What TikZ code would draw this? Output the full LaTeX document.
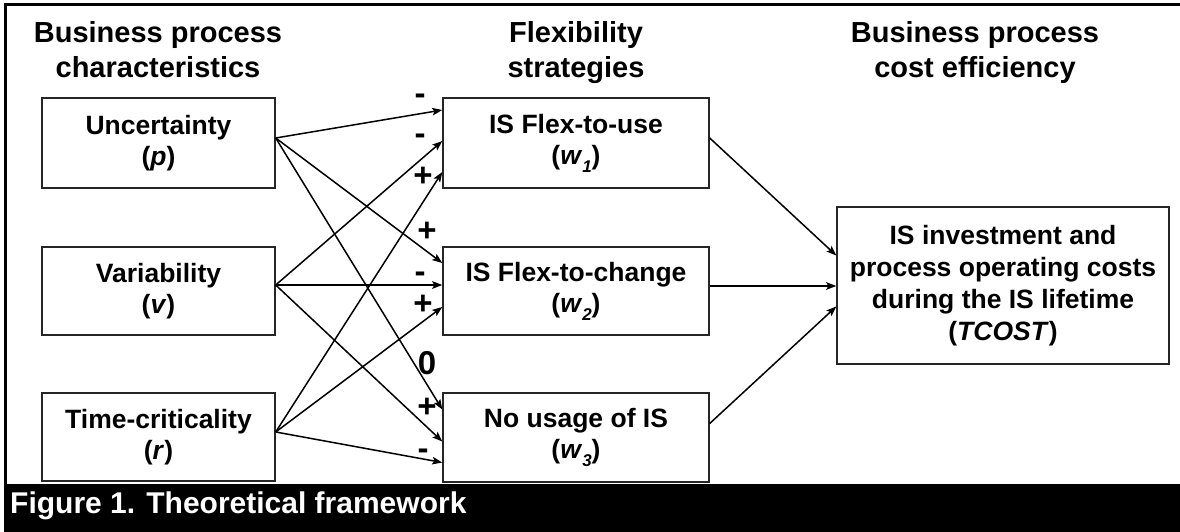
\documentclass[tikz,border=0pt]{standalone}
\usepackage{fontspec}
\setmainfont{Liberation Sans}
\usetikzlibrary{arrows.meta}
\newcommand\subidx[1]{\raisebox{-0.3em}{\fontsize{17}{17}\selectfont\itshape #1}}
\begin{document}
\begin{tikzpicture}[x=1pt,y=-1pt,
  box/.style={draw=black!85, line width=1.4pt, align=center, inner sep=0pt,
    font=\bfseries\fontsize{26.5}{31}\selectfont},
  head/.style={align=center, anchor=north, inner sep=0pt,
    font=\bfseries\fontsize{29}{35}\selectfont},
  sign/.style={anchor=base, inner sep=0pt, font=\bfseries\fontsize{33}{33}\selectfont},
  link/.style={line width=1.5pt, -{Stealth[length=10pt,width=7.5pt,inset=2pt]}},
  heavy/.style={link, line width=2.2pt},
]
\useasboundingbox (0,0) rectangle (1180,532);

% outer frame and caption bar
\draw[line width=3pt] (5,484) -- (5,5) -- (1181,5);
\fill[black] (3.5,484) rectangle (1180,532);
\node[anchor=base west, inner sep=0pt, text=white,
  font=\bfseries\fontsize{30}{30}\selectfont] (cap) at (10,513)
  {Figure 1. Theoretical framework};

% column headings
\node[head] (h1) at (158,21) {Business process\\characteristics};
\node[head] (h2) at (576,21) {Flexibility\\strategies};
\node[head] (h3) at (975,21) {Business process\\cost efficiency};

% process characteristics
\node[box, minimum width=233pt, minimum height=90pt] (p) at (158.5,143) {Uncertainty\\(\textit{p})};
\node[box, minimum width=233pt, minimum height=88pt] (v) at (158.5,291) {Variability\\(\textit{v})};
\node[box, minimum width=233pt, minimum height=88pt] (r) at (158.5,437) {Time-criticality\\(\textit{r})};

% flexibility strategies
\node[box, minimum width=266pt, minimum height=90pt] (w1) at (576,143) {IS Flex-to-use\\(\textit{w}\subidx{1})};
\node[box, minimum width=266pt, minimum height=88pt] (w2) at (576,291) {IS Flex-to-change\\(\textit{w}\subidx{2})};
\node[box, minimum width=266pt, minimum height=89pt] (w3) at (576,437.5) {No usage of IS\\(\textit{w}\subidx{3})};

% cost efficiency
\node[box, minimum width=332pt, minimum height=157pt, font=\bfseries\fontsize{26.5}{32}\selectfont] (tc) at (1003,285.5)
  {IS investment and\\process operating costs\\during the IS lifetime\\(\textit{TCOST})};

% effects of the characteristics on the strategies
\draw[link]  ([yshift=5pt]p.east) -- ([yshift=33pt]w1.west);
\draw[link]  ([yshift=5pt]p.east) -- ([yshift=28pt]w2.west);
\draw[link]  ([yshift=5pt]p.east) -- ([yshift=28pt]w3.west);
\draw[link]  ([yshift=6pt]v.east) -- ([yshift=2pt]w1.west);
\draw[heavy] ([yshift=6pt]v.east) -- ([yshift=6pt]w2.west);
\draw[link]  ([yshift=6pt]v.east) -- ([yshift=-4pt]w3.west);
\draw[link]  ([yshift=5pt]r.east) -- ([yshift=-29pt]w1.west);
\draw[link]  ([yshift=5pt]r.east) -- ([yshift=-16pt]w2.west);
\draw[link]  ([yshift=5pt]r.east) -- ([yshift=-25pt]w3.west);

% effects of the strategies on the costs
\draw[link]  ([yshift=5pt]w1.east) -- ([yshift=30pt]tc.west);
\draw[heavy] ([yshift=5pt]w2.east) -- ([yshift=-0.5pt]tc.west);
\draw[link]  ([yshift=14pt]w3.east) -- ([yshift=-21pt]tc.west);

% signs of the effects
\node[sign] (s1) at (420,105) {-};
\node[sign] (s2) at (420,144) {-};
\node[sign] (s3) at (423,186) {+};
\node[sign] (s4) at (427,241) {+};
\node[sign] (s5) at (420,282) {-};
\node[sign] (s6) at (423,314) {+};
\node[sign] (s7) at (427,374) {0};
\node[sign] (s8) at (427,417) {+};
\node[sign] (s9) at (423,459) {-};
\end{tikzpicture}
\end{document}
